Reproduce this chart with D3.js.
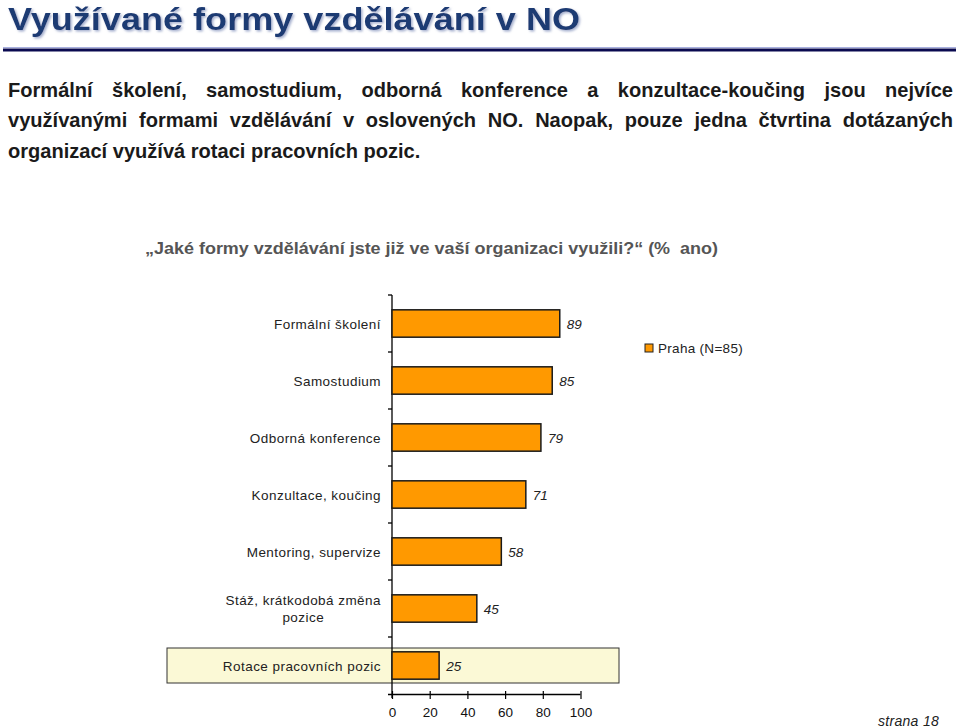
<!DOCTYPE html>
<html><head><meta charset="utf-8">
<script src="https://cdn.jsdelivr.net/npm/d3@7"></script>
<style>
html,body{margin:0;padding:0;background:#fff;}
svg{display:block;}
</style></head>
<body>
<script>
const categories = ["Formální školení","Samostudium","Odborná konference","Konzultace, koučing","Mentoring, supervize","Stáž, krátkodobá změna pozice","Rotace pracovních pozic"];
const categoryLines = [["Formální školení"],["Samostudium"],["Odborná konference"],["Konzultace, koučing"],["Mentoring, supervize"],["Stáž, krátkodobá změna","pozice"],["Rotace pracovních pozic"]];
const values = [89,85,79,71,58,45,25];
const xTicks = [0,20,40,60,80,100];
const seriesName = "Praha (N=85)";
const highlighted = "Rotace pracovních pozic";
const titleText = "Využívané formy vzdělávání v NO";
const paragraphLines = [
  "Formální školení, samostudium, odborná konference a konzultace-koučing jsou nejvíce",
  "využívanými formami vzdělávání v oslovených NO. Naopak, pouze jedna čtvrtina dotázaných",
  "organizací využívá rotaci pracovních pozic."
];
const questionText = "„Jaké formy vzdělávání jste již ve vaší organizaci využili?“ (%  ano)";
const footerText = "strana 18";

const W = 959, H = 728;
const svg = d3.select("body").append("svg").attr("width", W).attr("height", H);
const font = "'Liberation Sans', Arial, sans-serif";

// Title
const defs = svg.append("defs");
const f = defs.append("filter").attr("id","sh").attr("x","-5%").attr("y","-20%").attr("width","110%").attr("height","140%");
f.append("feDropShadow").attr("dx",1.5).attr("dy",1.5).attr("stdDeviation",0.8).attr("flood-color","#9aa6c8").attr("flood-opacity",0.9);
svg.append("text").attr("x",8).attr("y",30).attr("font-family",font).attr("font-weight","bold")
  .attr("font-size",32).attr("fill","#1c3a73").attr("filter","url(#sh)")
  .attr("textLength",572).attr("lengthAdjust","spacingAndGlyphs").text(titleText);
svg.append("line").attr("x1",3).attr("x2",956).attr("y1",47.5).attr("y2",47.5).attr("stroke","#a8b0e0").attr("stroke-width",1);
svg.append("line").attr("x1",3).attr("x2",956).attr("y1",50).attr("y2",50).attr("stroke","#0a0a50").attr("stroke-width",3);

// Paragraph (justified), slightly widened glyphs
const kx = 1.04;
const pg = svg.append("g").attr("transform",`translate(8,0) scale(${kx},1)`);
paragraphLines.forEach((ln,i)=>{
  const t = pg.append("text").attr("x",0).attr("y",97 + i*30.5).attr("font-family",font)
    .attr("font-weight","bold").attr("font-size",19.3).attr("fill","#1a1a1a").text(ln);
  if (i < paragraphLines.length-1) {
    const w = t.node().getComputedTextLength();
    const spaces = (ln.match(/ /g)||[]).length;
    const target = 945/kx;
    t.attr("word-spacing", (target - w)/spaces);
  }
});

// Question
svg.append("text").attr("x",145).attr("y",254).attr("font-family",font).attr("font-weight","bold")
  .attr("font-size",16.5).attr("fill","#555").style("white-space","pre")
  .attr("textLength",573).attr("lengthAdjust","spacingAndGlyphs").text(questionText);

// Chart
const x0 = 392, x1 = 580.5, yTop = 295, yBot = 694;
const x = d3.scaleLinear().domain([0,100]).range([x0,x1]);
const y = d3.scaleBand().domain(categories).range([yTop,yBot]).paddingInner(0.52).paddingOuter(0.26);

// highlight box
svg.append("rect").attr("x",167).attr("y",y(highlighted)+y.bandwidth()/2-17.5).attr("width",452).attr("height",35)
  .attr("fill","#fbf9d6").attr("stroke","#333").attr("stroke-width",1);

// y axis line + ticks at band boundaries
svg.append("line").attr("x1",x0).attr("x2",x0).attr("y1",yTop).attr("y2",yBot+4).attr("stroke","#000").attr("stroke-width",1.3);
d3.range(categories.length).forEach(i=>{
  const yy = yTop + i*(yBot-yTop)/categories.length;
  svg.append("line").attr("x1",x0-4).attr("x2",x0).attr("y1",yy).attr("y2",yy).attr("stroke","#000").attr("stroke-width",1.3);
});

// x axis
const xAxis = d3.axisBottom(x).tickValues(xTicks).tickSize(5).tickPadding(8);
const gx = svg.append("g").attr("transform",`translate(0,${yBot})`).call(xAxis);
gx.select(".domain").attr("d",`M${x0-4},0.5H${x1}`).attr("stroke","#000").attr("stroke-width",1.3);
gx.selectAll(".tick line").attr("stroke","#000").attr("stroke-width",1.2).attr("y1",-3);
gx.selectAll(".tick text").attr("font-family",font).attr("font-size",13.5).attr("fill","#111");

// bars
svg.selectAll("rect.bar").data(values).join("rect").attr("class","bar")
  .attr("x",x(0)).attr("y",(d,i)=>y(categories[i])).attr("width",d=>x(d)-x(0)).attr("height",y.bandwidth())
  .attr("fill","#ff9900").attr("stroke","#1a1a1a").attr("stroke-width",1.5);

// value labels
svg.selectAll("text.val").data(values).join("text").attr("class","val")
  .attr("x",d=>x(d)+7).attr("y",(d,i)=>y(categories[i])+y.bandwidth()/2+5)
  .attr("font-family",font).attr("font-style","italic").attr("font-size",13.5).attr("fill","#222").text(d=>d);

// category labels
categoryLines.forEach((lines,i)=>{
  const cy = y(categories[i]) + y.bandwidth()/2;
  const n = lines.length;
  const t = svg.append("text").attr("text-anchor","middle").attr("font-family",font).attr("font-size",13.5)
    .attr("letter-spacing",0.45).attr("fill","#222");
  lines.forEach((l,j)=>{
    t.append("tspan").attr("x",0).attr("y",cy + 5 + (j-(n-1)/2)*17).text(l);
  });
  const bb = t.node().getBBox();
  t.attr("transform",`translate(${381 - bb.width/2},0)`);
});

// legend
svg.append("rect").attr("x",645).attr("y",344).attr("width",8).attr("height",8).attr("fill","#ff9900").attr("stroke","#222").attr("stroke-width",1);
svg.append("text").attr("x",658).attr("y",353).attr("font-family",font).attr("font-size",13.5).attr("letter-spacing",0.3).attr("fill","#222").text(seriesName);

// footer
svg.append("text").attr("x",878).attr("y",726).attr("font-family",font).attr("font-style","italic").attr("font-size",14).attr("letter-spacing",0.3).attr("fill","#222").text(footerText);
</script>
</body></html>
